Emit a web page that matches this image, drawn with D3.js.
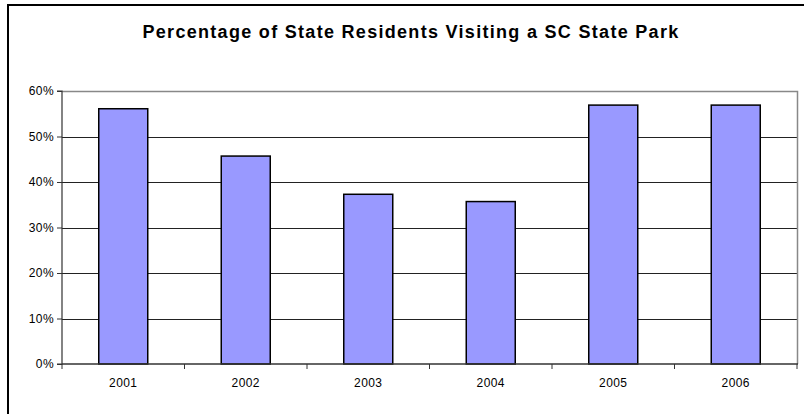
<!DOCTYPE html>
<html>
<head>
<meta charset="utf-8">
<script src="https://cdn.jsdelivr.net/npm/d3@7"></script>
<style>
  html, body { margin: 0; padding: 0; background: #fff; }
  svg { display: block; }
</style>
</head>
<body>
<svg id="chart" width="804" height="414"></svg>
<script>
const title = "Percentage of State Residents Visiting a SC State Park";
const years = ["2001", "2002", "2003", "2004", "2005", "2006"];
const percents = [56.1, 45.7, 37.3, 35.7, 56.9, 56.9];
const yTicks = [0, 10, 20, 30, 40, 50, 60];

const svg = d3.select("#chart");
const m = { left: 62, right: 797, top: 91, bottom: 364 };
const FONT = "'Liberation Sans', Arial, sans-serif";

// outer chart border
svg.append("rect")
  .attr("x", 8).attr("y", 5)
  .attr("width", 830).attr("height", 440)
  .attr("fill", "#fff")
  .attr("stroke", "#000").attr("stroke-width", 2);

svg.append("text")
  .attr("x", 411).attr("y", 38)
  .attr("text-anchor", "middle")
  .attr("font-family", FONT)
  .attr("font-weight", "bold")
  .attr("font-size", 18)
  .attr("letter-spacing", 1.3)
  .attr("fill", "#000")
  .text(title);

const x = d3.scaleBand().domain(years).range([m.left, m.right]).paddingInner(0.6).paddingOuter(0.3);
const xb = d3.scaleBand().domain(years).range([m.left, m.right]);
const y = d3.scaleLinear().domain([0, 60]).range([m.bottom, m.top]);

// gridlines
svg.append("g").selectAll("line").data(yTicks.filter(d => d > 0 && d < 60)).join("line")
  .attr("x1", m.left).attr("x2", m.right)
  .attr("y1", d => Math.round(y(d)) + 0.5).attr("y2", d => Math.round(y(d)) + 0.5)
  .attr("stroke", "#222").attr("stroke-width", 1);

// plot border top/right
svg.append("path")
  .attr("d", `M${m.left},${m.top + 0.5}H${m.right + 0.5}V${m.bottom}`)
  .attr("fill", "none").attr("stroke", "#888").attr("stroke-width", 1.5);

// bars
svg.append("g").selectAll("rect").data(years).join("rect")
  .attr("x", d => x(d))
  .attr("y", (d, i) => y(percents[i]))
  .attr("width", x.bandwidth())
  .attr("height", (d, i) => y(0) - y(percents[i]))
  .attr("fill", "#9999ff")
  .attr("stroke", "#000").attr("stroke-width", 1.5);

// y axis
const yAxis = d3.axisLeft(y).tickValues(yTicks).tickSize(5).tickPadding(3)
  .tickFormat(d => d + "%");
const gy = svg.append("g").attr("transform", `translate(${m.left},0)`).call(yAxis);
gy.select(".domain").attr("stroke", "#333").attr("stroke-width", 1.2).attr("d", `M-5,${m.top}H0V${m.bottom}H-5`);
gy.selectAll(".tick line").attr("stroke", "#333");
gy.selectAll("text")
  .attr("font-family", FONT)
  .attr("font-size", 12).attr("letter-spacing", 0.4).attr("fill", "#000");

// x axis
const gx = svg.append("g").attr("transform", `translate(0,${m.bottom})`);
gx.append("line").attr("x1", m.left).attr("x2", m.right + 1)
  .attr("y1", 0).attr("y2", 0).attr("stroke", "#333").attr("stroke-width", 1.5);
const bounds = years.map(d => xb(d)).concat([m.right]);
gx.selectAll("line.tk").data(bounds).join("line").attr("class", "tk")
  .attr("x1", d => d).attr("x2", d => d).attr("y1", 0).attr("y2", 5)
  .attr("stroke", "#333");
gx.selectAll("text").data(years).join("text")
  .attr("x", d => xb(d) + xb.bandwidth() / 2)
  .attr("y", 23)
  .attr("text-anchor", "middle")
  .attr("font-family", FONT)
  .attr("font-size", 12).attr("letter-spacing", 0.4).attr("fill", "#000")
  .text(d => d);
</script>
</body>
</html>
